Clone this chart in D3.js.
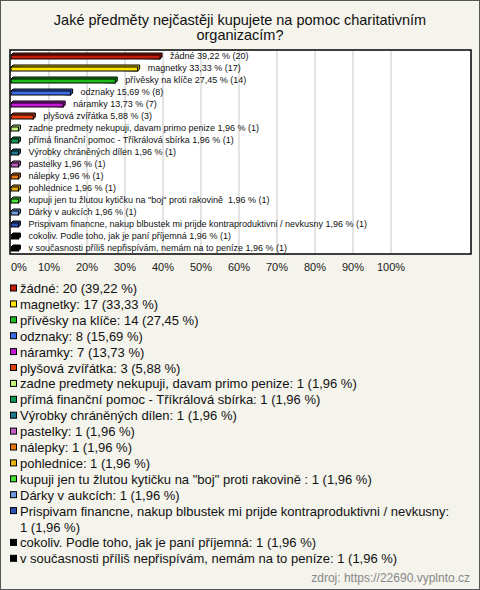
<!DOCTYPE html>
<html><head><meta charset="utf-8">
<script src="https://cdn.jsdelivr.net/npm/d3@7"></script>
<style>
html,body{margin:0;padding:0;background:#fff;}
text{font-family:"Liberation Sans",Arial,sans-serif;white-space:pre;}
</style></head>
<body><svg id="c" width="480" height="590"></svg>
<script>
const titleLines = ["Jaké předměty nejčastěji kupujete na pomoc charitativním", "organizacím?"];
const categories = [
  "žádné", "magnetky", "přívěsky na klíče", "odznaky", "náramky", "plyšová zvířátka",
  "zadne predmety nekupuji, davam primo penize",
  "přímá finanční pomoc - Tříkrálová sbírka",
  "Výrobky chráněných dílen", "pastelky", "nálepky", "pohlednice",
  "kupuji jen tu žlutou kytičku na \"boj\" proti rakovině ",
  "Dárky v aukcích",
  "Prispivam financne, nakup blbustek mi prijde kontraproduktivni / nevkusny",
  "cokoliv. Podle toho, jak je paní příjemná",
  "v současnosti příliš nepřispívám, nemám na to peníze"
];
const counts = [20, 17, 14, 8, 7, 3, 1, 1, 1, 1, 1, 1, 1, 1, 1, 1, 1];
const percents = [39.22, 33.33, 27.45, 15.69, 13.73, 5.88, 1.96, 1.96, 1.96, 1.96, 1.96, 1.96, 1.96, 1.96, 1.96, 1.96, 1.96];
const colors = ["#c41c0a", "#ffe400", "#1dbb1d", "#3d6ee8", "#c31ad2", "#e2400e", "#c6f57c", "#109a56",
  "#1e7a8e", "#c25ec4", "#e8780e", "#e8b20c", "#46e234", "#709de2", "#2a52b4", "#000000", "#000000"];
const tickValues = [0, 10, 20, 30, 40, 50, 60, 70, 80, 90, 100];
const source = "zdroj: https://22690.vyplnto.cz";

const fmt = v => v.toFixed(2).replace(".", ",");
const svg = d3.select("#c");
const W = 480, H = 590;

svg.append("rect").attr("x", 0.5).attr("y", 0.5).attr("width", W - 1).attr("height", H - 1)
  .attr("fill", "#f4f3ec").attr("stroke", "#555");

svg.selectAll("text.title").data(titleLines).enter().append("text")
  .attr("x", 240).attr("y", (d, i) => 25 + i * 15).attr("text-anchor", "middle")
  .attr("font-size", 14.5).attr("fill", "#111").text(d => d);

const plot = {x0: 10, y0: 50, x1: 471, y1: 254};
svg.append("rect").attr("x", plot.x0).attr("y", plot.y0)
  .attr("width", plot.x1 - plot.x0).attr("height", plot.y1 - plot.y0).attr("fill", "#fff");

const x = d3.scaleLinear().domain([0, 100]).range([11, 391]);
const y = d3.scaleBand().domain(categories).range([plot.y0, plot.y1]);

svg.selectAll("line.grid").data(tickValues.slice(1)).enter().append("line")
  .attr("x1", d => x(d)).attr("x2", d => x(d)).attr("y1", plot.y0).attr("y2", plot.y1)
  .attr("stroke", "#c8c8c8").attr("stroke-width", 1);

const g = svg.append("g");
const rows = g.selectAll("g.row").data(categories).enter().append("g");
const bh = 4, dep = 2;
rows.append("path")
  .attr("d", (d, i) => {
    const x0 = x(0), x1 = x(percents[i]), yc = y(d) + y.bandwidth() / 2 - bh / 2 + 1;
    return `M${x0},${yc} L${x0 + dep},${yc - dep} L${x1 + dep},${yc - dep} L${x1 + dep},${yc + bh - dep} L${x1},${yc + bh} Z`;
  })
  .attr("fill", (d, i) => d3.color(colors[i]).darker(0.6))
  .attr("stroke", "#000").attr("stroke-width", 1).attr("stroke-linejoin", "round");
rows.append("rect")
  .attr("x", x(0)).attr("y", d => y(d) + y.bandwidth() / 2 - bh / 2 + 1)
  .attr("width", (d, i) => x(percents[i]) - x(0)).attr("height", bh)
  .attr("fill", (d, i) => colors[i]).attr("stroke", "#000").attr("stroke-width", 1);
rows.append("text")
  .attr("x", (d, i) => x(percents[i]) + 10).attr("y", d => y(d) + y.bandwidth() / 2 + 3)
  .attr("font-size", 9).attr("fill", "#111")
  .text((d, i) => `${d} ${fmt(percents[i])} % (${counts[i]})`);

svg.append("rect").attr("x", plot.x0).attr("y", plot.y0)
  .attr("width", plot.x1 - plot.x0).attr("height", plot.y1 - plot.y0)
  .attr("fill", "none").attr("stroke", "#000").attr("stroke-width", 1.5);

svg.selectAll("text.tick").data(tickValues).enter().append("text")
  .attr("x", d => x(d)).attr("y", 271)
  .attr("text-anchor", d => d === 0 ? "start" : "middle")
  .attr("font-size", 11).attr("fill", "#222").text(d => d + "%");

// legend
const lx = 10, tx = 20, lineH = 15.9, maxW = 431;
let ly = 288.5;
categories.forEach((c, i) => {
  const label = `${c.replace(/\s+$/, " ")}: ${counts[i]} (${fmt(percents[i])} %)`;
  svg.append("rect").attr("x", lx + 0.5).attr("y", ly - 3.5).attr("width", 6).attr("height", 6)
    .attr("fill", colors[i]).attr("stroke", "#000").attr("stroke-width", 1);
  const words = label.split(" ");
  let line = "";
  const t = svg.append("text").attr("font-size", 13).attr("fill", "#111");
  let tsp = t.append("tspan").attr("x", tx).attr("y", ly + 4.5);
  words.forEach((w, k) => {
    const trial = line === "" ? w : line + " " + w;
    tsp.text(trial);
    if (tsp.node().getComputedTextLength() > maxW && line !== "") {
      tsp.text(line);
      ly += lineH;
      line = w;
      tsp = t.append("tspan").attr("x", tx).attr("y", ly + 4.5).text(w);
    } else line = trial;
  });
  ly += lineH;
});

svg.append("text").attr("x", 470).attr("y", 582).attr("text-anchor", "end")
  .attr("font-size", 12).attr("fill", "#888").text(source);
</script></body></html>
